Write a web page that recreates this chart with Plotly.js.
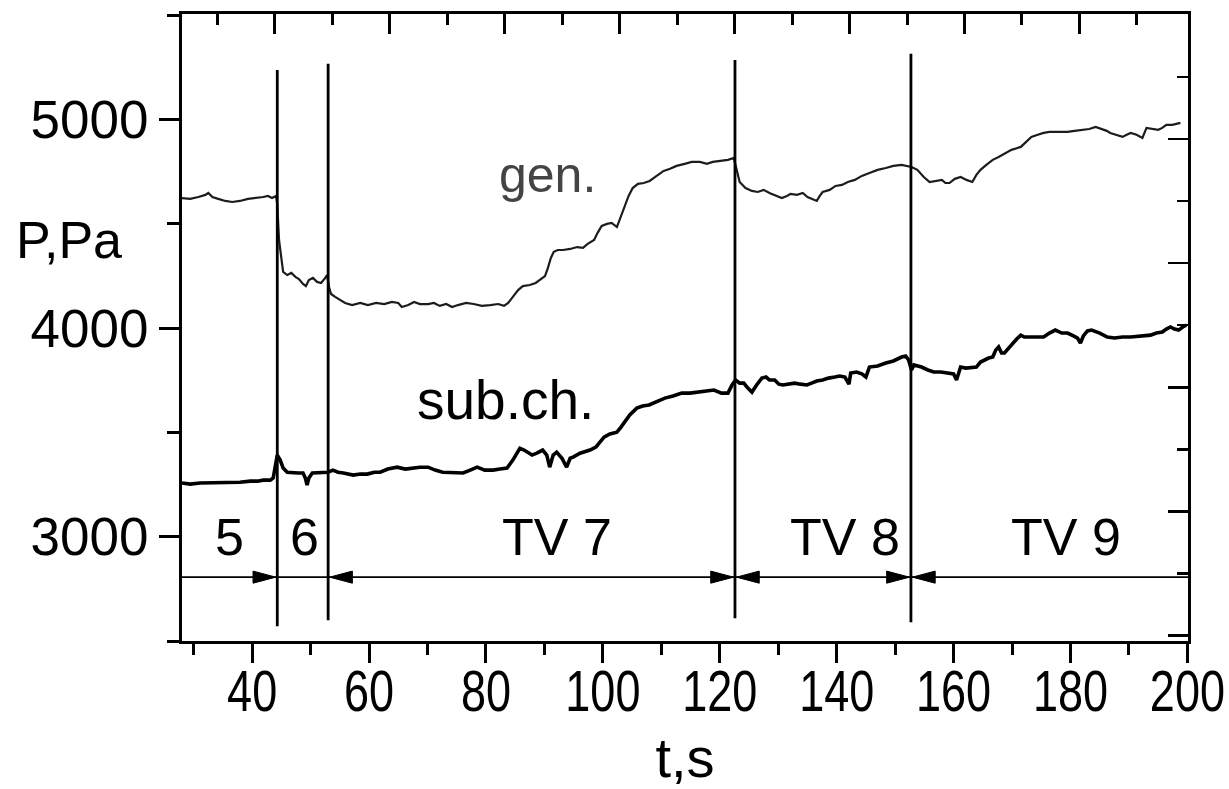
<!DOCTYPE html>
<html>
<head>
<meta charset="utf-8">
<script src="https://cdn.plot.ly/plotly-3.0.1.min.js"></script>
<style>
  html, body { margin: 0; padding: 0; background: #fff; }
  #chart { width: 1229px; height: 789px; }
</style>
</head>
<body>
<div id="chart"></div>
<script>
// ---------- DATA ----------
const genT = [28.0,29.4,30.8,32.0,32.5,33.2,34.2,35.4,36.6,37.9,39.3,40.7,41.9,42.7,43.4,44.1,44.3,44.6,45.0,45.3,
  46.0,46.7,47.4,48.0,48.7,49.2,49.7,50.4,51.1,51.8,52.5,52.8,53.2,53.5,54.2,55.0,55.9,57.1,58.5,59.8,61.2,62.6,63.9,
  65.0,65.6,66.7,67.7,68.7,70.1,71.1,72.1,73.2,74.2,75.2,76.6,77.9,79.3,80.7,82.1,83.1,83.8,84.6,85.5,86.3,87.5,88.5,
  89.2,90.1,90.6,91.1,91.6,92.3,93.2,94.4,95.6,96.6,97.4,98.5,99.1,99.8,100.7,101.5,102.4,103.1,103.8,104.4,105.1,
  106.0,107.0,108.0,109.2,110.4,111.5,112.6,114.0,115.2,116.6,117.8,118.8,120.0,121.4,122.4,122.9,123.4,124.4,125.5,
  126.5,127.5,128.5,129.6,130.6,131.5,132.1,133.2,134.2,135.0,135.9,136.6,137.1,137.6,138.8,139.8,140.9,141.9,143.1,
  144.3,145.6,147.0,148.4,149.7,151.1,152.1,152.8,153.8,154.9,155.9,156.9,158.0,158.6,159.3,160.2,161.2,162.2,163.2,
  163.9,164.6,165.6,166.7,167.7,168.7,169.9,171.5,172.5,173.3,174.4,175.4,176.4,177.4,178.5,179.5,180.7,182.2,183.2,
  184.3,185.3,186.2,186.8,187.9,188.9,189.6,190.3,191.3,192.3,193.0,194.0,195.0,195.7,196.4,197.4,198.1,198.8];
const genP = [4623,4619,4628,4638,4647,4628,4619,4609,4604,4609,4619,4623,4628,4633,4623,4633,4590,4422,4317,4269,
  4254,4264,4245,4235,4211,4201,4230,4240,4221,4216,4240,4254,4192,4163,4149,4134,4120,4110,4120,4110,4120,4115,4125,
  4120,4101,4110,4125,4115,4115,4120,4106,4115,4101,4110,4120,4115,4106,4110,4115,4106,4120,4149,4182,4201,4206,4216,
  4230,4249,4288,4336,4365,4374,4374,4379,4388,4384,4403,4422,4456,4489,4499,4504,4484,4537,4580,4633,4671,
  4691,4695,4705,4729,4753,4763,4777,4787,4796,4796,4787,4796,4801,4806,4815,4758,4700,4671,4657,
  4652,4662,4647,4633,4623,4633,4643,4638,4647,4628,4619,4609,4633,4652,4662,4681,4686,4700,4710,
  4729,4743,4758,4767,4777,4782,4777,4772,4758,4724,4700,4705,4710,4695,4695,4715,4724,4710,4700,
  4734,4758,4782,4806,4820,4835,4854,4868,4897,4916,4926,4935,4940,4940,4940,4940,4945,4950,4954,
  4964,4954,4945,4935,4926,4916,4926,4935,4926,4911,4959,4954,4950,4959,4974,4974,4978,4983];

const subT = [28.0,29.4,31.1,32.8,34.5,36.2,37.9,39.7,40.9,41.9,43.1,43.6,43.9,44.3,44.8,45.3,46.0,47.0,47.9,48.7,
  49.1,49.4,49.7,50.3,51.6,53.0,53.8,54.7,55.6,57.3,58.5,59.7,60.9,61.9,63.2,64.8,66.2,67.5,68.7,70.1,71.3,72.6,73.8,
  75.0,76.1,77.3,78.5,79.8,81.2,82.4,83.6,84.6,85.3,85.8,86.5,87.0,87.9,88.7,89.7,90.4,90.9,91.5,92.1,93.0,93.8,94.4,
  94.9,96.1,96.9,97.8,98.8,99.5,100.2,101.2,102.4,103.1,103.8,104.6,105.8,106.8,107.9,109.1,110.6,112.0,113.5,114.9,
  116.2,117.6,119.0,120.3,121.4,122.1,122.7,123.4,124.1,124.8,125.5,126.3,127.2,127.9,128.5,129.4,130.1,130.8,131.8,
  132.8,133.8,134.9,135.7,136.6,137.6,138.6,139.7,140.5,141.4,142.1,142.4,143.4,144.3,145.0,145.6,147.0,148.4,149.7,
  151.1,151.8,152.3,152.8,153.2,153.8,154.5,155.6,156.6,157.8,159.1,160.0,160.5,161.2,162.1,163.1,163.9,164.6,165.3,
  166.0,166.7,167.2,167.7,168.2,168.7,169.4,170.1,170.8,171.5,172.1,172.7,174.0,175.4,176.4,177.4,178.5,179.5,180.5,
  181.2,181.7,182.2,182.9,183.6,185.0,186.3,187.5,188.9,190.3,191.8,193.7,194.7,195.7,196.4,197.1,197.8,198.5,199.2,199.8];
const subP = [3257,3252,3257,3257,3261,3261,3261,3266,3266,3271,3271,3281,3333,3391,3367,3329,3309,3305,3305,3305,
  3281,3247,3281,3305,3305,3309,3319,3309,3305,3295,3300,3300,3309,3309,3324,3333,3324,3329,3333,3333,3319,3309,3309,
  3305,3305,3319,3333,3319,3319,3324,3329,3367,3405,3424,3415,3405,3391,3400,3415,3391,3333,3391,3405,3376,3333,3376,
  3381,3400,3405,3415,3429,3453,3477,3492,3501,3525,3554,3583,3616,3626,3631,3645,3664,3674,3688,3688,
  3693,3698,3703,3688,3688,3727,3751,3736,3736,3712,3693,3727,3760,3765,3751,3751,3731,3727,3731,
  3736,3731,3727,3736,3746,3751,3760,3765,3770,3765,3731,3784,3789,3780,3765,3813,3818,3832,3842,
  3861,3866,3847,3799,3823,3818,3813,3799,3789,3789,3784,3780,3751,3813,3808,3813,3813,3837,3847,
  3856,3861,3894,3909,3880,3880,3904,3928,3947,3966,3957,3957,3957,3957,3976,3990,3976,3976,3962,
  3952,3928,3962,3986,3990,3976,3957,3952,3957,3957,3962,3966,3976,3981,3995,4005,3995,3990,4005,4014];

const boundariesT = [44.3, 53.0, 122.6, 152.7];   // vertical lines separating regimes
const regimeLabels = ['5', '6', 'TV 7', 'TV 8', 'TV 9'];
const curveLabels = ['gen.', 'sub.ch.'];
const xTickVals = [40, 60, 80, 100, 120, 140, 160, 180, 200];
const yTickVals = [3000, 4000, 5000];
const xTitle = 't,s';
const yTitle = 'P,Pa';

// ---------- LAYOUT / STYLE ----------
const X_RANGE = [28.0, 200.1];
const Y_RANGE = [2500, 5505];
const ARROW_P = 2806;
const lineTops = [5237, 5266, 5285, 5314];
const lineBottoms = [2571, 2600, 2609, 2590];
const regimeLabelT = [36.2, 49.0, 92.1, 141.5, 179.2];
const regimeLabelP = 3000;
const curveLabelPos = [[90.6, 4735], [83.3, 3655]];

const FONT = '"Liberation Sans", Arial, sans-serif';

const traces = [
  { x: genT, y: genP, type: 'scatter', mode: 'lines', name: 'gen.',
    line: { color: '#1c1c1c', width: 2.2 }, hoverinfo: 'skip' },
  { x: subT, y: subP, type: 'scatter', mode: 'lines', name: 'sub.ch.',
    line: { color: '#000', width: 3.6 }, hoverinfo: 'skip' },
  // invisible trace to anchor mirrored frame axes
  { x: [X_RANGE[0]], y: [Y_RANGE[0]], xaxis: 'x2', yaxis: 'y2', type: 'scatter', mode: 'markers',
    marker: { opacity: 0 }, hoverinfo: 'skip', showlegend: false }
];

const shapes = [];
boundariesT.forEach((b, i) => {
  shapes.push({ type: 'line', xref: 'x', yref: 'y', x0: b, x1: b, y0: lineBottoms[i], y1: lineTops[i],
    line: { color: '#000', width: 2.8 } });
});
shapes.push({ type: 'line', xref: 'x', yref: 'y', x0: X_RANGE[0], x1: X_RANGE[1], y0: ARROW_P, y1: ARROW_P,
  line: { color: '#000', width: 1.8 } });

const AL = 3.9, AH = 29, GAP = 0.25;
function head(tip, dir) {
  const base = tip - dir * AL;
  return { type: 'path', xref: 'x', yref: 'y',
    path: `M${tip},${ARROW_P} L${base},${ARROW_P + AH} L${base},${ARROW_P - AH} Z`,
    fillcolor: '#000', line: { color: '#000', width: 1 } };
}
// right-pointing heads ending at boundaries 0,2,3 ; left-pointing heads starting at boundaries 1,2,3
[0, 2, 3].forEach(i => shapes.push(head(boundariesT[i] - GAP, 1)));
[1, 2, 3].forEach(i => shapes.push(head(boundariesT[i] + GAP, -1)));

const annotations = [];
regimeLabels.forEach((lab, i) => {
  annotations.push({ x: regimeLabelT[i], y: regimeLabelP, xref: 'x', yref: 'y', text: lab, showarrow: false,
    font: { family: FONT, size: 52, color: '#000' }, xanchor: 'center', yanchor: 'middle' });
});
curveLabels.forEach((lab, i) => {
  annotations.push({ x: curveLabelPos[i][0], y: curveLabelPos[i][1], xref: 'x', yref: 'y', text: lab,
    showarrow: false, font: { family: FONT, size: i === 0 ? 50 : 55, color: i === 0 ? '#444' : '#000' },
    xanchor: 'center', yanchor: 'middle' });
});
annotations.push({ x: -0.112, y: 4420, xref: 'paper', yref: 'y', text: yTitle, showarrow: false,
  font: { family: FONT, size: 52, color: '#000' }, xanchor: 'center', yanchor: 'middle' });

const layout = {
  width: 1229, height: 789,
  margin: { l: 182, r: 41, t: 14, b: 148 },
  paper_bgcolor: '#fff', plot_bgcolor: '#fff',
  showlegend: false,
  xaxis: {
    range: X_RANGE, showgrid: false, zeroline: false,
    showline: true, linecolor: '#000', linewidth: 3,
    ticks: 'outside', ticklen: 19, tickwidth: 3, tickcolor: '#000',
    tickvals: xTickVals, ticktext: xTickVals.map(String),
    tickfont: { family: FONT, size: 57, color: '#000' },
    ticklabelstandoff: 0, ticklabeloverflow: 'allow',
    minor: { ticks: 'outside', dtick: 10, tick0: 0, ticklen: 11, tickwidth: 3, tickcolor: '#000' },
    title: { text: xTitle, font: { family: FONT, size: 56, color: '#000' }, standoff: 25 }
  },
  yaxis: {
    range: Y_RANGE, showgrid: false, zeroline: false,
    showline: true, linecolor: '#000', linewidth: 3,
    ticks: 'outside', ticklen: 20, tickwidth: 3, tickcolor: '#000',
    tickvals: yTickVals, ticktext: yTickVals.map(String),
    tickfont: { family: FONT, size: 53, color: '#000' },
    ticklabelstandoff: 0,
    minor: { ticks: 'outside', dtick: 500, tick0: 0, ticklen: 12, tickwidth: 3, tickcolor: '#000' }
  },
  xaxis2: {
    overlaying: 'x', side: 'top', anchor: 'y2', range: X_RANGE,
    showgrid: false, zeroline: false, showline: true, linecolor: '#000', linewidth: 3,
    ticks: 'inside', ticklen: 20, tickwidth: 3, tickcolor: '#000',
    tickmode: 'linear', tick0: 43.9, dtick: 19.66, showticklabels: false,
    minor: { ticks: 'inside', tick0: 34.07, dtick: 9.83, ticklen: 11, tickwidth: 3, tickcolor: '#000' }
  },
  yaxis2: {
    overlaying: 'y', side: 'right', anchor: 'x2', range: Y_RANGE,
    showgrid: false, zeroline: false, showline: true, linecolor: '#000', linewidth: 3,
    ticks: 'inside', ticklen: 20, tickwidth: 2.5, tickcolor: '#000',
    tickmode: 'linear', tick0: 4906, dtick: 595, showticklabels: false,
    minor: { ticks: 'inside', tick0: 4608.5, dtick: 297.5, ticklen: 11, tickwidth: 2.5, tickcolor: '#000' }
  },
  shapes: shapes,
  annotations: annotations
};

// horizontally condense the bottom tick labels (reference uses a narrow face) and lift them
function condense(selector, sx, dy) {
  document.querySelectorAll(selector).forEach(el => {
    const bb = el.getBBox();
    const cx = bb.x + bb.width / 2;
    const t0 = el.getAttribute('transform') || '';
    el.setAttribute('transform', `${t0} translate(${cx},${dy}) scale(${sx},1) translate(${-cx},0)`);
  });
}

Plotly.newPlot('chart', traces, layout, { staticPlot: true, displayModeBar: false }).then(() => {
  condense('.xaxislayer-above .xtick text', 0.79, -20);
});
</script>
</body>
</html>
